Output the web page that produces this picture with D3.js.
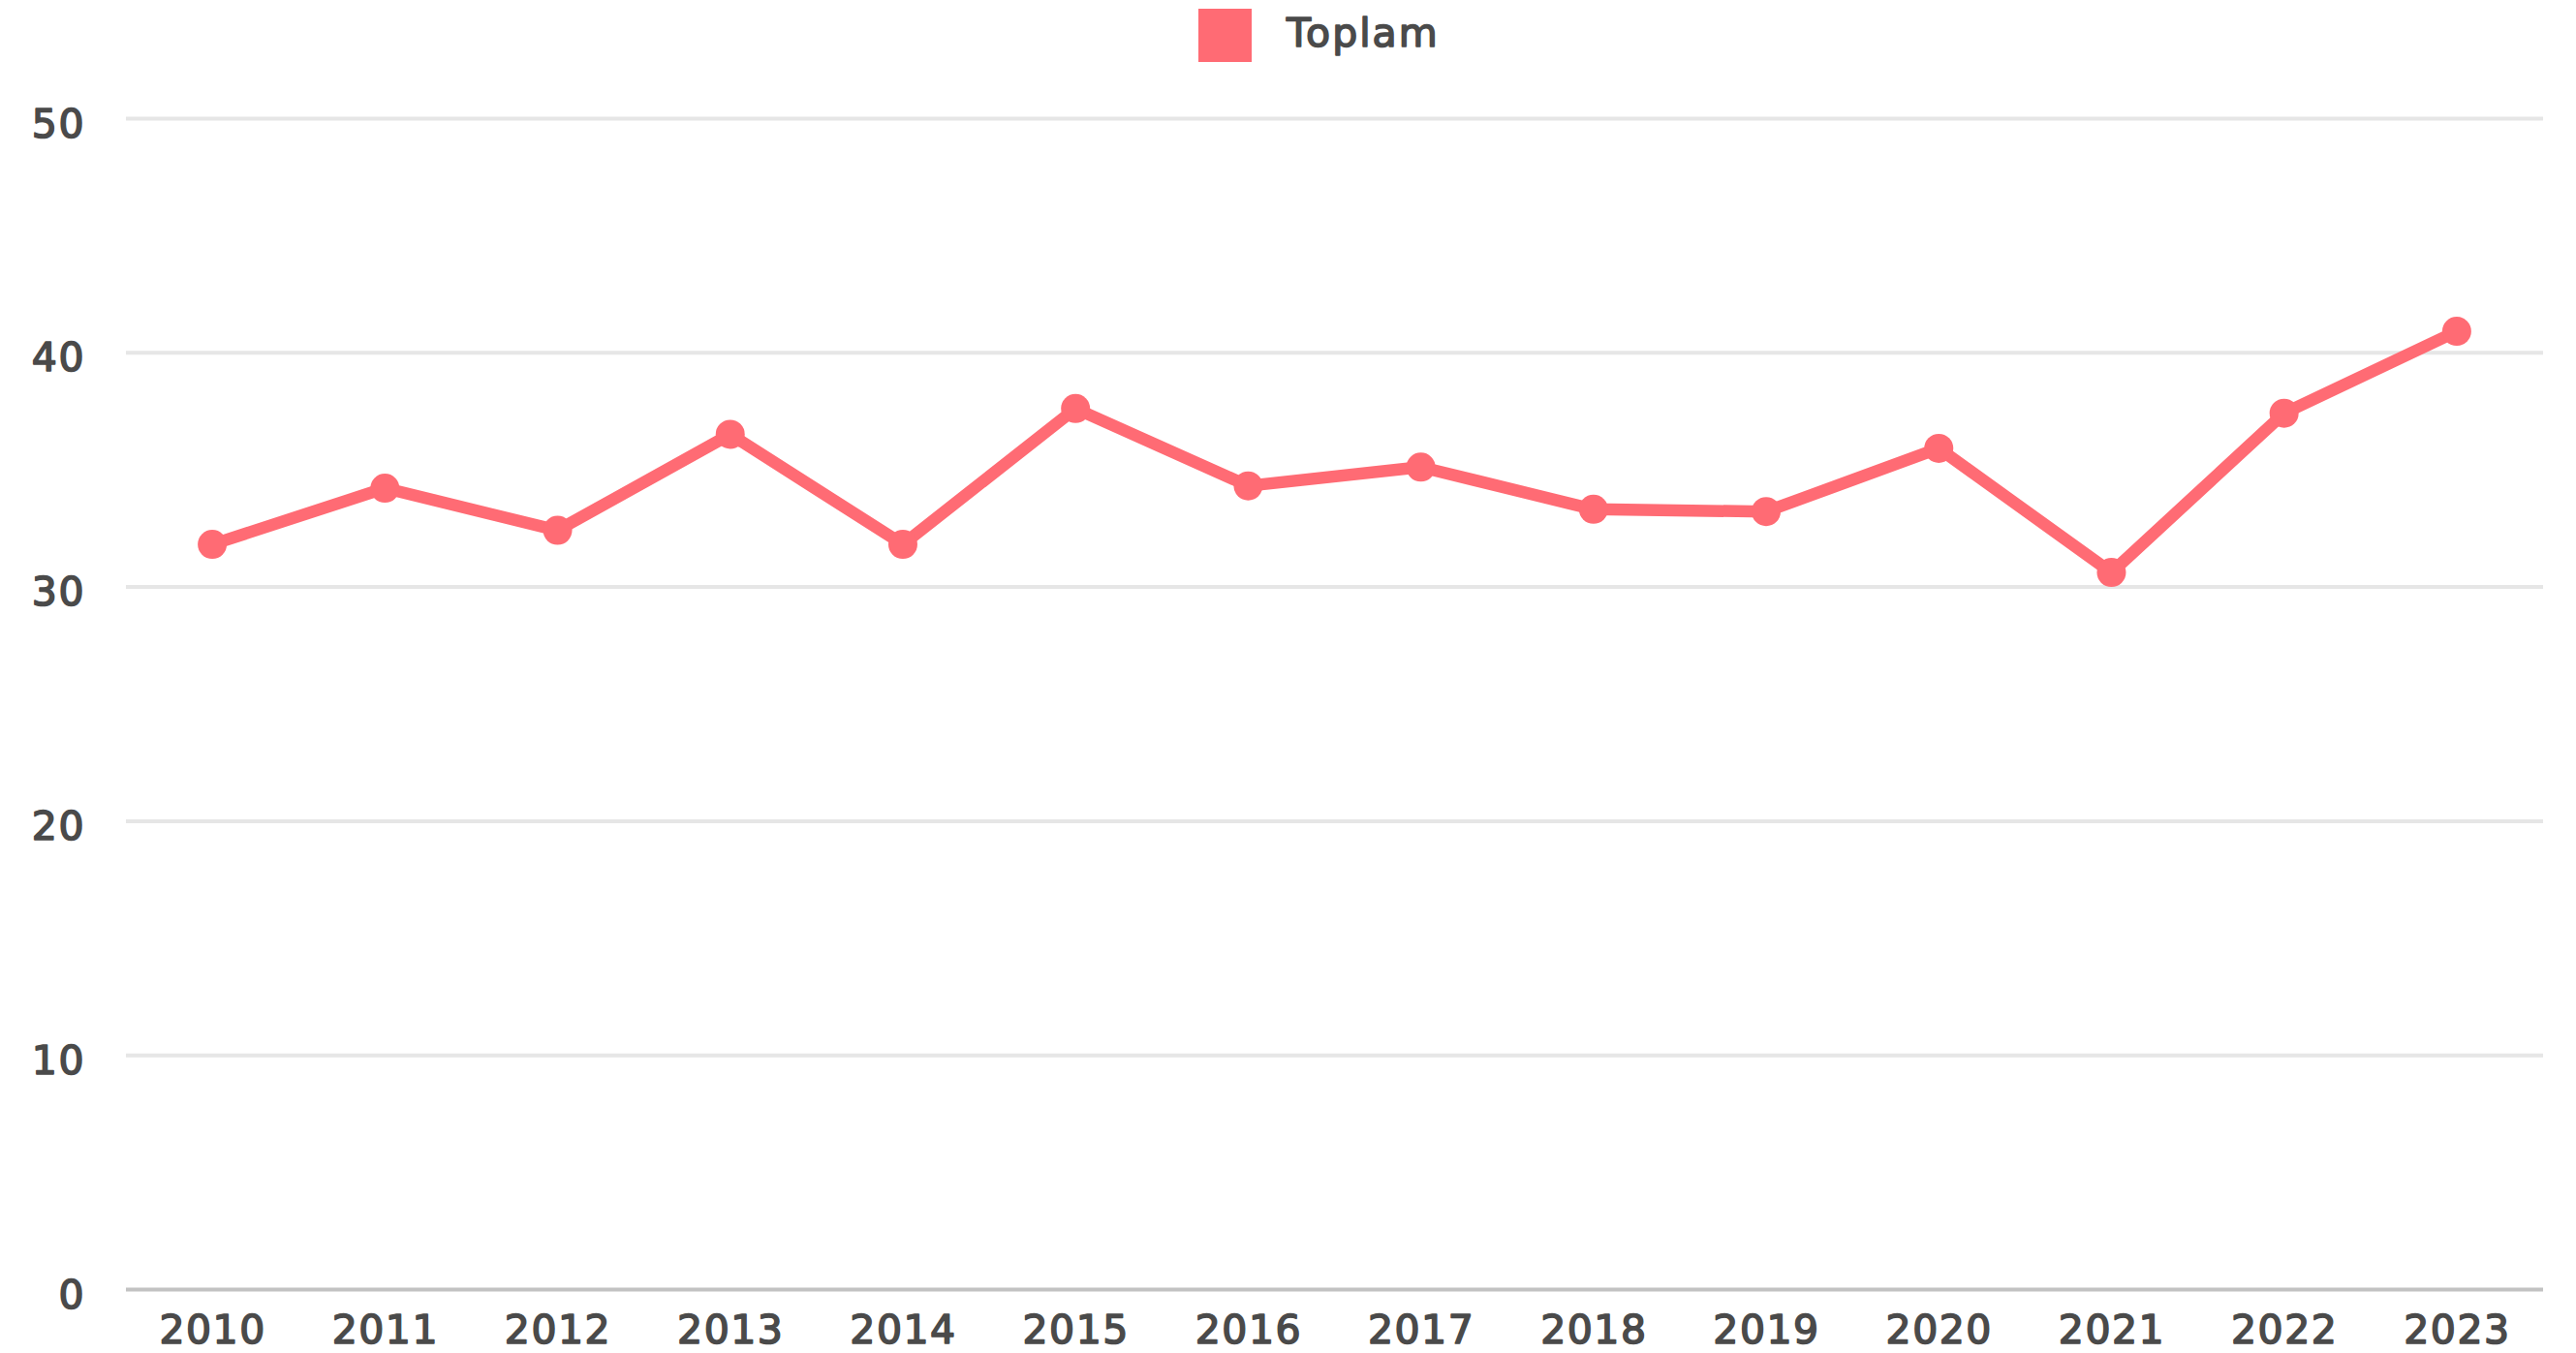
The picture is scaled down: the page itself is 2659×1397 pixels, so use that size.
<!DOCTYPE html>
<html>
<head>
<meta charset="utf-8">
<script src="https://cdn.jsdelivr.net/npm/d3@7"></script>
<style>
  html, body { margin: 0; padding: 0; background: #ffffff; }
  svg { display: block; }
</style>
</head>
<body>
<svg id="chart" width="2659" height="1397"></svg>
<script>
// ---- data ----
const categories = ["2010","2011","2012","2013","2014","2015","2016","2017","2018","2019","2020","2021","2022","2023"];
const seriesName = "Toplam";
const values = [31.8, 34.2, 32.4, 36.5, 31.8, 37.6, 34.3, 35.1, 33.3, 33.2, 35.9, 30.6, 37.4, 40.9];
const yTicks = [0, 10, 20, 30, 40, 50];

// ---- layout / style ----
const W = 2659, H = 1397;
const plot = { left: 130, right: 2625, top: 122, bottom: 1331 };
const lineColor = "#ff6b74";
const textColor = "#4a4a4a";
const fontFamily = "'DejaVu Sans', sans-serif";
const fontSize = 41;

function styleText(sel, spacing) {
  sel.attr("fill", textColor)
    .attr("stroke", textColor)
    .attr("stroke-width", 1.6)
    .attr("stroke-linejoin", "round")
    .style("font-family", fontFamily)
    .style("font-size", fontSize + "px")
    .style("letter-spacing", spacing + "px");
}

const svg = d3.select("#chart");

const x = d3.scalePoint().domain(categories).range([plot.left, plot.right]).padding(0.5);
const y = d3.scaleLinear().domain([0, 50]).range([plot.bottom, plot.top]);

// y axis with gridlines
const yAxis = d3.axisLeft(y)
  .tickValues(yTicks)
  .tickSize(-(plot.right - plot.left))
  .tickPadding(42)
  .tickFormat(d3.format("d"));

const gy = svg.append("g")
  .attr("transform", `translate(${plot.left},0)`)
  .call(yAxis);
gy.select(".domain").remove();
gy.selectAll(".tick line")
  .attr("stroke", d => d === 0 ? "#c2c2c2" : "#e6e6e6")
  .attr("stroke-width", 4);
gy.selectAll(".tick text")
  .attr("dy", null)
  .attr("y", 19)
  .call(styleText, 1.5);

// x axis
const xAxis = d3.axisBottom(x).tickSize(0).tickPadding(0);
const gx = svg.append("g")
  .attr("transform", `translate(0,${plot.bottom})`)
  .call(xAxis);
gx.select(".domain").remove();
gx.selectAll(".tick text")
  .attr("dy", null)
  .attr("y", 56)
  .call(styleText, 1.5);

// line
const data = categories.map((c, i) => ({ c, v: values[i] }));
const line = d3.line().x(d => x(d.c)).y(d => y(d.v));
svg.append("path")
  .datum(data)
  .attr("d", line)
  .attr("fill", "none")
  .attr("stroke", lineColor)
  .attr("stroke-width", 12.5)
  .attr("stroke-linejoin", "round");

svg.append("g")
  .selectAll("circle")
  .data(data)
  .join("circle")
  .attr("cx", d => x(d.c))
  .attr("cy", d => y(d.v))
  .attr("r", 15)
  .attr("fill", lineColor);

// legend
const legend = svg.append("g");
legend.append("rect")
  .attr("x", 1237).attr("y", 9)
  .attr("width", 55).attr("height", 55)
  .attr("fill", lineColor);
legend.append("text")
  .attr("x", 1328).attr("y", 48)
  .call(styleText, 2)
  .text(seriesName);
</script>
</body>
</html>
